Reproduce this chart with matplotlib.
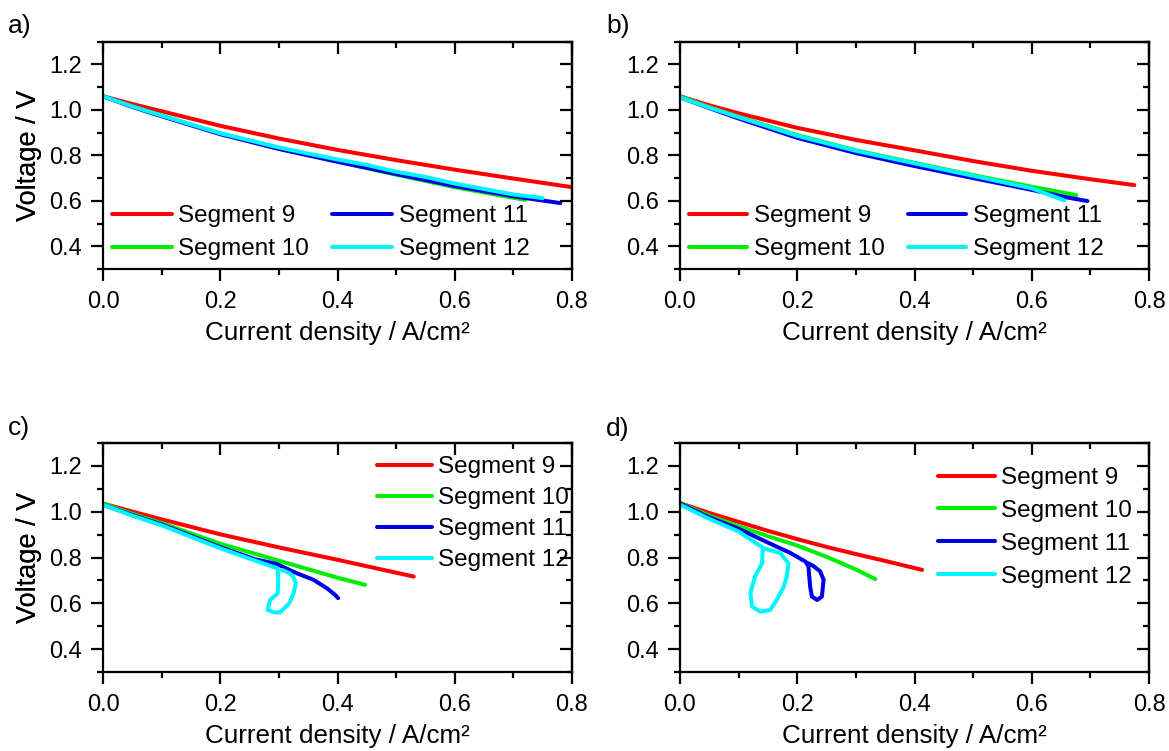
import matplotlib
matplotlib.use("Agg")
import matplotlib.pyplot as plt
from matplotlib.ticker import MultipleLocator, FixedLocator, FormatStrFormatter, NullFormatter

plt.rcParams['font.family'] = ['Liberation Sans', 'DejaVu Sans']

# ---------------- data: current density (A/cm²) and voltage (V) ----------------
labels = ["Segment 9", "Segment 10", "Segment 11", "Segment 12"]
colors = ["#FF0000", "#00EE00", "#0000E6", "#00F5FF"]

# a)
a_seg9_j = [0, 0.05, 0.1, 0.2, 0.3, 0.4, 0.5, 0.6, 0.7, 0.8]
a_seg9_v = [1.06, 1.026, 0.994, 0.930, 0.874, 0.824, 0.779, 0.737, 0.698, 0.660]
a_seg10_j = [0, 0.05, 0.1, 0.2, 0.3, 0.4, 0.5, 0.6, 0.72]
a_seg10_v = [1.06, 1.015, 0.975, 0.897, 0.830, 0.772, 0.715, 0.660, 0.604]
a_seg11_j = [0, 0.05, 0.1, 0.2, 0.3, 0.4, 0.5, 0.6, 0.7, 0.78]
a_seg11_v = [1.06, 1.013, 0.972, 0.893, 0.828, 0.772, 0.718, 0.665, 0.620, 0.590]
a_seg12_j = [0, 0.05, 0.1, 0.2, 0.3, 0.35, 0.4, 0.45, 0.5, 0.55, 0.6, 0.65, 0.7, 0.75]
a_seg12_v = [1.06, 1.015, 0.975, 0.897, 0.835, 0.808, 0.782, 0.758, 0.728, 0.705, 0.676, 0.652, 0.628, 0.612]

# b)
b_seg9_j = [0, 0.05, 0.1, 0.2, 0.3, 0.4, 0.5, 0.6, 0.7, 0.775]
b_seg9_v = [1.06, 1.020, 0.985, 0.921, 0.868, 0.822, 0.775, 0.732, 0.695, 0.669]
b_seg10_j = [0, 0.05, 0.1, 0.2, 0.3, 0.4, 0.5, 0.6, 0.676]
b_seg10_v = [1.06, 1.012, 0.970, 0.889, 0.822, 0.767, 0.713, 0.662, 0.625]
b_seg11_j = [0, 0.05, 0.1, 0.2, 0.3, 0.4, 0.5, 0.6, 0.66, 0.695]
b_seg11_v = [1.055, 1.008, 0.962, 0.877, 0.810, 0.753, 0.700, 0.648, 0.615, 0.599]
b_seg12_j = [0, 0.05, 0.1, 0.2, 0.3, 0.4, 0.5, 0.6, 0.655]
b_seg12_v = [1.055, 1.010, 0.968, 0.886, 0.820, 0.765, 0.710, 0.655, 0.602]

# c)
c_seg9_j = [0, 0.05, 0.1, 0.2, 0.3, 0.4, 0.53]
c_seg9_v = [1.035, 1.000, 0.966, 0.901, 0.844, 0.790, 0.717]
c_seg10_j = [0, 0.05, 0.1, 0.2, 0.3, 0.4, 0.447]
c_seg10_v = [1.035, 0.990, 0.950, 0.860, 0.786, 0.712, 0.681]
c_seg11_j = [0, 0.05, 0.1, 0.2, 0.26, 0.296, 0.33, 0.359, 0.382, 0.396, 0.401]
c_seg11_v = [1.030, 0.985, 0.944, 0.845, 0.792, 0.772, 0.732, 0.703, 0.666, 0.637, 0.623]
c_seg12_j = [0, 0.05, 0.1, 0.2, 0.25, 0.298, 0.299, 0.298, 0.285, 0.281, 0.292,
             0.302, 0.318, 0.325, 0.329, 0.324, 0.318, 0.305]
c_seg12_v = [1.030, 0.982, 0.940, 0.840, 0.795, 0.752, 0.703, 0.644, 0.615, 0.572, 0.561,
             0.561, 0.601, 0.644, 0.688, 0.717, 0.732, 0.746]

# d)
d_seg9_j = [0, 0.05, 0.1, 0.15, 0.2, 0.25, 0.3, 0.35, 0.413]
d_seg9_v = [1.037, 0.994, 0.955, 0.916, 0.880, 0.846, 0.815, 0.785, 0.746]
d_seg10_j = [0, 0.05, 0.1, 0.15, 0.2, 0.25, 0.3, 0.333]
d_seg10_v = [1.037, 0.982, 0.936, 0.893, 0.852, 0.803, 0.748, 0.706]
d_seg11_j = [0, 0.05, 0.1, 0.15, 0.188, 0.214, 0.219, 0.222, 0.225, 0.234, 0.242,
             0.245, 0.239, 0.228, 0.219]
d_seg11_v = [1.035, 0.975, 0.925, 0.865, 0.820, 0.782, 0.762, 0.673, 0.630, 0.615, 0.630,
             0.703, 0.740, 0.762, 0.775]
d_seg12_j = [0, 0.05, 0.1, 0.142, 0.171, 0.185, 0.182, 0.177, 0.165, 0.154, 0.137,
             0.123, 0.120, 0.128, 0.140, 0.141]
d_seg12_v = [1.030, 0.968, 0.913, 0.841, 0.819, 0.775, 0.717, 0.673, 0.615, 0.572, 0.564,
             0.586, 0.644, 0.717, 0.775, 0.833]

panels = {
    "a)": [(a_seg9_j, a_seg9_v), (a_seg10_j, a_seg10_v), (a_seg11_j, a_seg11_v), (a_seg12_j, a_seg12_v)],
    "b)": [(b_seg9_j, b_seg9_v), (b_seg10_j, b_seg10_v), (b_seg11_j, b_seg11_v), (b_seg12_j, b_seg12_v)],
    "c)": [(c_seg9_j, c_seg9_v), (c_seg10_j, c_seg10_v), (c_seg11_j, c_seg11_v), (c_seg12_j, c_seg12_v)],
    "d)": [(d_seg9_j, d_seg9_v), (d_seg10_j, d_seg10_v), (d_seg11_j, d_seg11_v), (d_seg12_j, d_seg12_v)],
}

x_ticks = [0.0, 0.2, 0.4, 0.6, 0.8]
y_ticks = [0.4, 0.6, 0.8, 1.0, 1.2]

# ---------------- layout (pixel based) ----------------
W, H = 1169, 751
fig = plt.figure(figsize=(W / 100, H / 100), dpi=100)

boxes = {
    "a)": (103, 572, 41.7, 269.0),
    "b)": (680, 1149, 41.7, 269.0),
    "c)": (103, 572, 442.7, 672.3),
    "d)": (680, 1149, 442.7, 672.3),
}
tag_pos = {"a)": (8, 33), "b)": (606, 33), "c)": (8, 435), "d)": (606, 436)}
# legend: ncol, upper-left anchor (px), row spacing, handle length
legend_cfg = {
    "a)": (2, (112, 205), 0.46, 2.45),
    "b)": (2, (689, 205), 0.46, 2.40),
    "c)": (1, (377, 456), 0.37, 2.25),
    "d)": (1, (938, 467), 0.45, 2.33),
}

LW = 2.9
for key, series in panels.items():
    l, r, t, b = boxes[key]
    ax = fig.add_axes([l / W, 1 - b / H, (r - l) / W, (b - t) / H])
    handles = []
    for (j, v), c, lab in zip(series, colors, labels):
        h, = ax.plot(j, v, color=c, lw=LW, label=lab,
                     solid_capstyle="round", solid_joinstyle="round")
        handles.append(h)

    ax.set_xlim(0, 0.8)
    ax.set_ylim(0.3, 1.3)
    ax.xaxis.set_major_locator(FixedLocator(x_ticks))
    ax.xaxis.set_minor_locator(MultipleLocator(0.1))
    ax.yaxis.set_major_locator(FixedLocator(y_ticks))
    ax.yaxis.set_minor_locator(MultipleLocator(0.1))
    ax.xaxis.set_major_formatter(FormatStrFormatter("%.1f"))
    ax.yaxis.set_major_formatter(FormatStrFormatter("%.1f"))
    for s in ax.spines.values():
        s.set_linewidth(1.6)
    ax.tick_params(axis="both", which="major", direction="out", length=8.5, width=1.6,
                   labelsize=17)
    ax.tick_params(axis="both", which="minor", direction="out", length=4.5, width=1.6)
    ax.tick_params(axis="x", which="major", pad=7)
    ax.tick_params(axis="y", which="major", pad=6.5)

    # inward ticks on the top and right frame
    top = ax.secondary_xaxis("top")
    top.xaxis.set_major_locator(FixedLocator(x_ticks))
    top.xaxis.set_minor_locator(MultipleLocator(0.1))
    top.xaxis.set_major_formatter(NullFormatter())
    top.tick_params(which="major", direction="in", length=8.5, width=1.6)
    top.tick_params(which="minor", direction="in", length=4.5, width=1.6)
    top.spines["top"].set_linewidth(1.6)
    right = ax.secondary_yaxis("right")
    right.yaxis.set_major_locator(FixedLocator(y_ticks))
    right.yaxis.set_minor_locator(MultipleLocator(0.1))
    right.yaxis.set_major_formatter(NullFormatter())
    right.tick_params(which="major", direction="in", length=8.5, width=1.6)
    right.tick_params(which="minor", direction="in", length=4.5, width=1.6)
    right.spines["right"].set_linewidth(1.6)

    ax.set_xlabel("Current density / A/cm²", fontsize=18.7, labelpad=6)
    ax.set_ylabel("Voltage / V", fontsize=19.5)
    ax.yaxis.set_label_coords((42 - l) / (r - l), 0.5)

    ncol, (lx, ly), lsp, hl = legend_cfg[key]
    ax.legend(handles=handles, ncol=ncol, loc="upper left",
              bbox_to_anchor=(lx / W, 1 - ly / H), bbox_transform=fig.transFigure,
              frameon=False, fontsize=17.5, borderpad=0, borderaxespad=0,
              handlelength=hl, handletextpad=0.28, columnspacing=0.95,
              labelspacing=lsp)

    tx, ty = tag_pos[key]
    fig.text(tx / W, 1 - ty / H, key, fontsize=19, va="baseline", ha="left")

fig.savefig("out.png", dpi=100)
